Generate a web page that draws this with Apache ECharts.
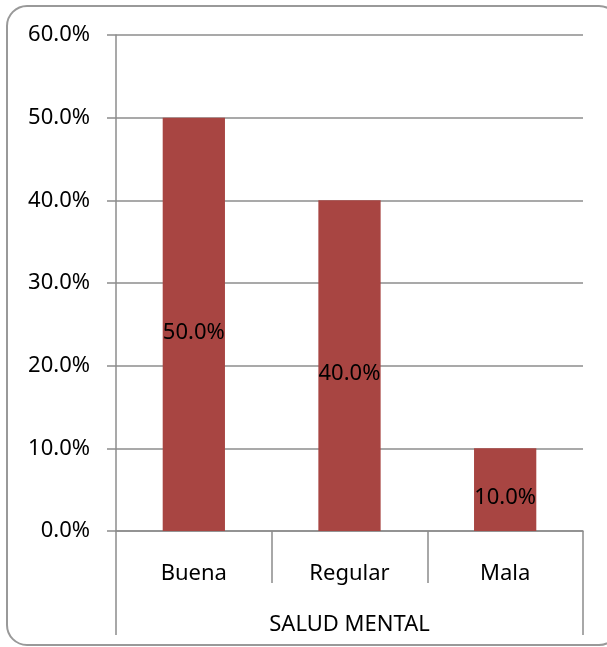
<!DOCTYPE html>
<html>
<head>
<meta charset="utf-8">
<script src="https://cdn.jsdelivr.net/npm/echarts@6/dist/echarts.min.js"></script>
<style>
  html, body { margin: 0; padding: 0; background: #fff; }
  #chart { width: 607px; height: 647px; }
</style>
</head>
<body>
<div id="chart"></div>
<script>
// data
const categories = ["Buena", "Regular", "Mala"];
const values = [0.5, 0.4, 0.1];
const groupLabel = ["SALUD MENTAL"];

const lineColor = "#8c8c8c";
const font = "'Noto Sans', 'Liberation Sans', sans-serif";
const fs = 22;

let myChart = echarts.init(document.getElementById("chart"));

const pct = (v) => (v * 100).toFixed(1) + "%";

const option = {
  animation: false,
  backgroundColor: "#fff",
  textStyle: { fontFamily: font },
  graphic: [
    {
      type: "rect",
      shape: { x: 7, y: 6, width: 612, height: 639, r: 20 },
      style: { fill: "none", stroke: "#999", lineWidth: 2 },
      z: -1,
    },
  ],
  grid: {
    left: 116,
    right: 24,
    top: 35,
    bottom: 116,
  },
  xAxis: [
    {
      type: "category",
      data: categories,
      position: "bottom",
      axisLine: { lineStyle: { color: lineColor, width: 1.5 } },
      axisTick: {
        show: true,
        interval: 0,
        alignWithLabel: false,
        length: 52,
        lineStyle: { color: lineColor, width: 1.5 },
      },
      axisLabel: {
        interval: 0,
        margin: 32,
        fontSize: fs,
        color: "#000",
        fontFamily: font,
      },
    },
    {
      type: "category",
      data: groupLabel,
      position: "bottom",
      gridIndex: 0,
      axisLine: { show: false },
      axisTick: {
        show: true,
        interval: 0,
        alignWithLabel: false,
        length: 104,
        lineStyle: { color: lineColor, width: 1.5 },
      },
      axisLabel: {
        margin: 83,
        fontSize: fs,
        color: "#000",
        fontFamily: font,
      },
    },
  ],
  yAxis: {
    type: "value",
    min: 0,
    max: 0.6,
    interval: 0.1,
    axisLine: { show: true, lineStyle: { color: lineColor, width: 1.5 } },
    axisTick: {
      show: true,
      length: 9,
      lineStyle: { color: lineColor, width: 1.5 },
    },
    splitLine: { lineStyle: { color: lineColor, width: 1.5 } },
    axisLabel: {
      margin: 26,
      fontSize: fs,
      color: "#000",
      fontFamily: font,
      formatter: pct,
    },
  },
  series: [
    {
      type: "bar",
      data: values,
      barWidth: "40%",
      itemStyle: { color: "#a84542" },
      label: {
        show: true,
        position: "inside",
        offset: [0, 8],
        fontSize: fs,
        color: "#000",
        fontFamily: font,
        formatter: (p) => pct(p.value),
      },
    },
  ],
};

option && myChart.setOption(option);
</script>
</body>
</html>
